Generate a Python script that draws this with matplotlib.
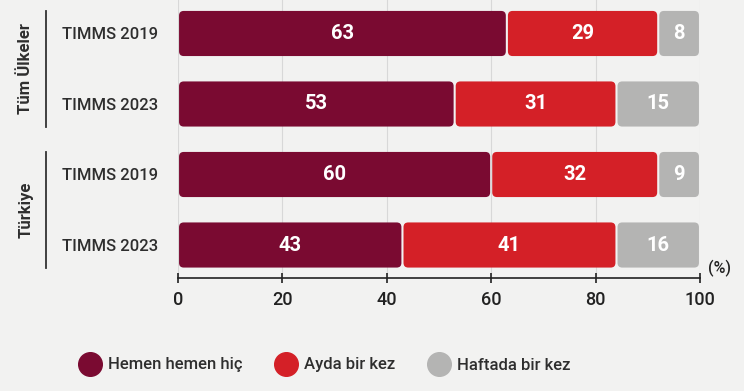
import matplotlib.pyplot as plt
import numpy as np
from matplotlib.patches import FancyBboxPatch
from matplotlib.lines import Line2D

plt.rcParams['font.family'] = ['Roboto', 'DejaVu Sans']

rows = ['TIMMS 2019', 'TIMMS 2023', 'TIMMS 2019', 'TIMMS 2023']
groups = ['Tüm Ülkeler', 'Türkiye']
series = ['Hemen hemen hiç', 'Ayda bir kez', 'Haftada bir kez']
hemen = [63, 53, 60, 43]
ayda = [29, 31, 32, 41]
haftada = [8, 15, 9, 16]
colors = ['#7a0a31', '#d42027', '#b4b4b3']
bg = '#f2f2f1'
txt = '#2e2e2e'

fig = plt.figure(figsize=(7.44, 3.91), dpi=100, facecolor=bg)
ax = fig.add_axes([178/744, 113/391, 522/744, 278/391])
ax.set_facecolor(bg)

y = np.arange(len(rows))
left = np.zeros(len(rows))
all_vals = [hemen, ayda, haftada]
for k, (vals, c) in enumerate(zip(all_vals, colors)):
    vals = np.array(vals, dtype=float)
    widths = vals.copy()
    if k == len(all_vals) - 1:
        # last share is drawn as the remainder (rounded values don't sum to 100)
        widths = 100 - left
    bars = ax.barh(y, widths, left=left, height=0.64, color=c)
    for b, v in zip(bars, vals):
        x0, y0 = b.get_x(), b.get_y()
        w, h = b.get_width(), b.get_height()
        b.set_visible(False)
        # px per unit: x 5.22, y 70.5 -> aspect
        p = FancyBboxPatch((x0 + 0.2, y0), w - 0.4, h,
                           boxstyle='round,pad=0,rounding_size=0.9',
                           mutation_aspect=5.22 / 70.5,
                           fc=c, ec='none', zorder=3)
        ax.add_patch(p)
        ax.text(x0 + w / 2, y0 + h / 2, '%d' % v, ha='center', va='center',
                color='white', fontsize=14.5, fontweight='bold', zorder=4)
    left += widths

ax.set_xlim(0, 100)
ax.set_ylim(3.468, -0.475)
ax.set_xticks([0, 20, 40, 60, 80, 100])
ax.xaxis.grid(True, color='#d8d8d8', lw=0.8, zorder=0)
ax.set_axisbelow(True)
ax.set_yticks(y)
ax.set_yticklabels(rows, fontsize=12, color=txt, fontweight='medium')
ax.tick_params(axis='y', length=0, pad=14)
ax.tick_params(axis='x', direction='inout', length=7, width=1.2, color='#222222',
               labelsize=13, labelcolor='#222222', pad=6)
for lb in ax.get_xticklabels():
    lb.set_fontweight('medium')
for s in ['top', 'right', 'left']:
    ax.spines[s].set_visible(False)
ax.spines['bottom'].set_color('#222222')
ax.spines['bottom'].set_linewidth(1.2)

ax.text(1.015, 0.005, '(%)', transform=ax.transAxes, fontsize=11.5,
        color='#222222', ha='left', va='bottom', fontweight='medium')

# group labels and brackets
for i, g in enumerate(groups):
    top_px = 11 + i * 141
    bot_px = top_px + 116
    fy0 = 1 - top_px / 391
    fy1 = 1 - bot_px / 391
    fig.add_artist(Line2D([46/744, 46/744], [fy0, fy1], color='#333333', lw=1.3))
    fig.text(26/744, (fy0 + fy1) / 2, g, rotation=90, ha='center', va='center',
             fontsize=12, fontweight='bold', color=txt)

handles = [Line2D([], [], marker='o', ls='', ms=17, mfc=c, mec=c) for c in colors]
fig.legend(handles, series, loc='center', bbox_to_anchor=(0.435, 1 - 365/391),
           ncol=3, frameon=False, handletextpad=0.3, handlelength=1.6,
           columnspacing=1.8, labelcolor=txt,
           prop={'size': 12, 'weight': 'medium'})

fig.savefig('out.png', dpi=100, facecolor=bg)
